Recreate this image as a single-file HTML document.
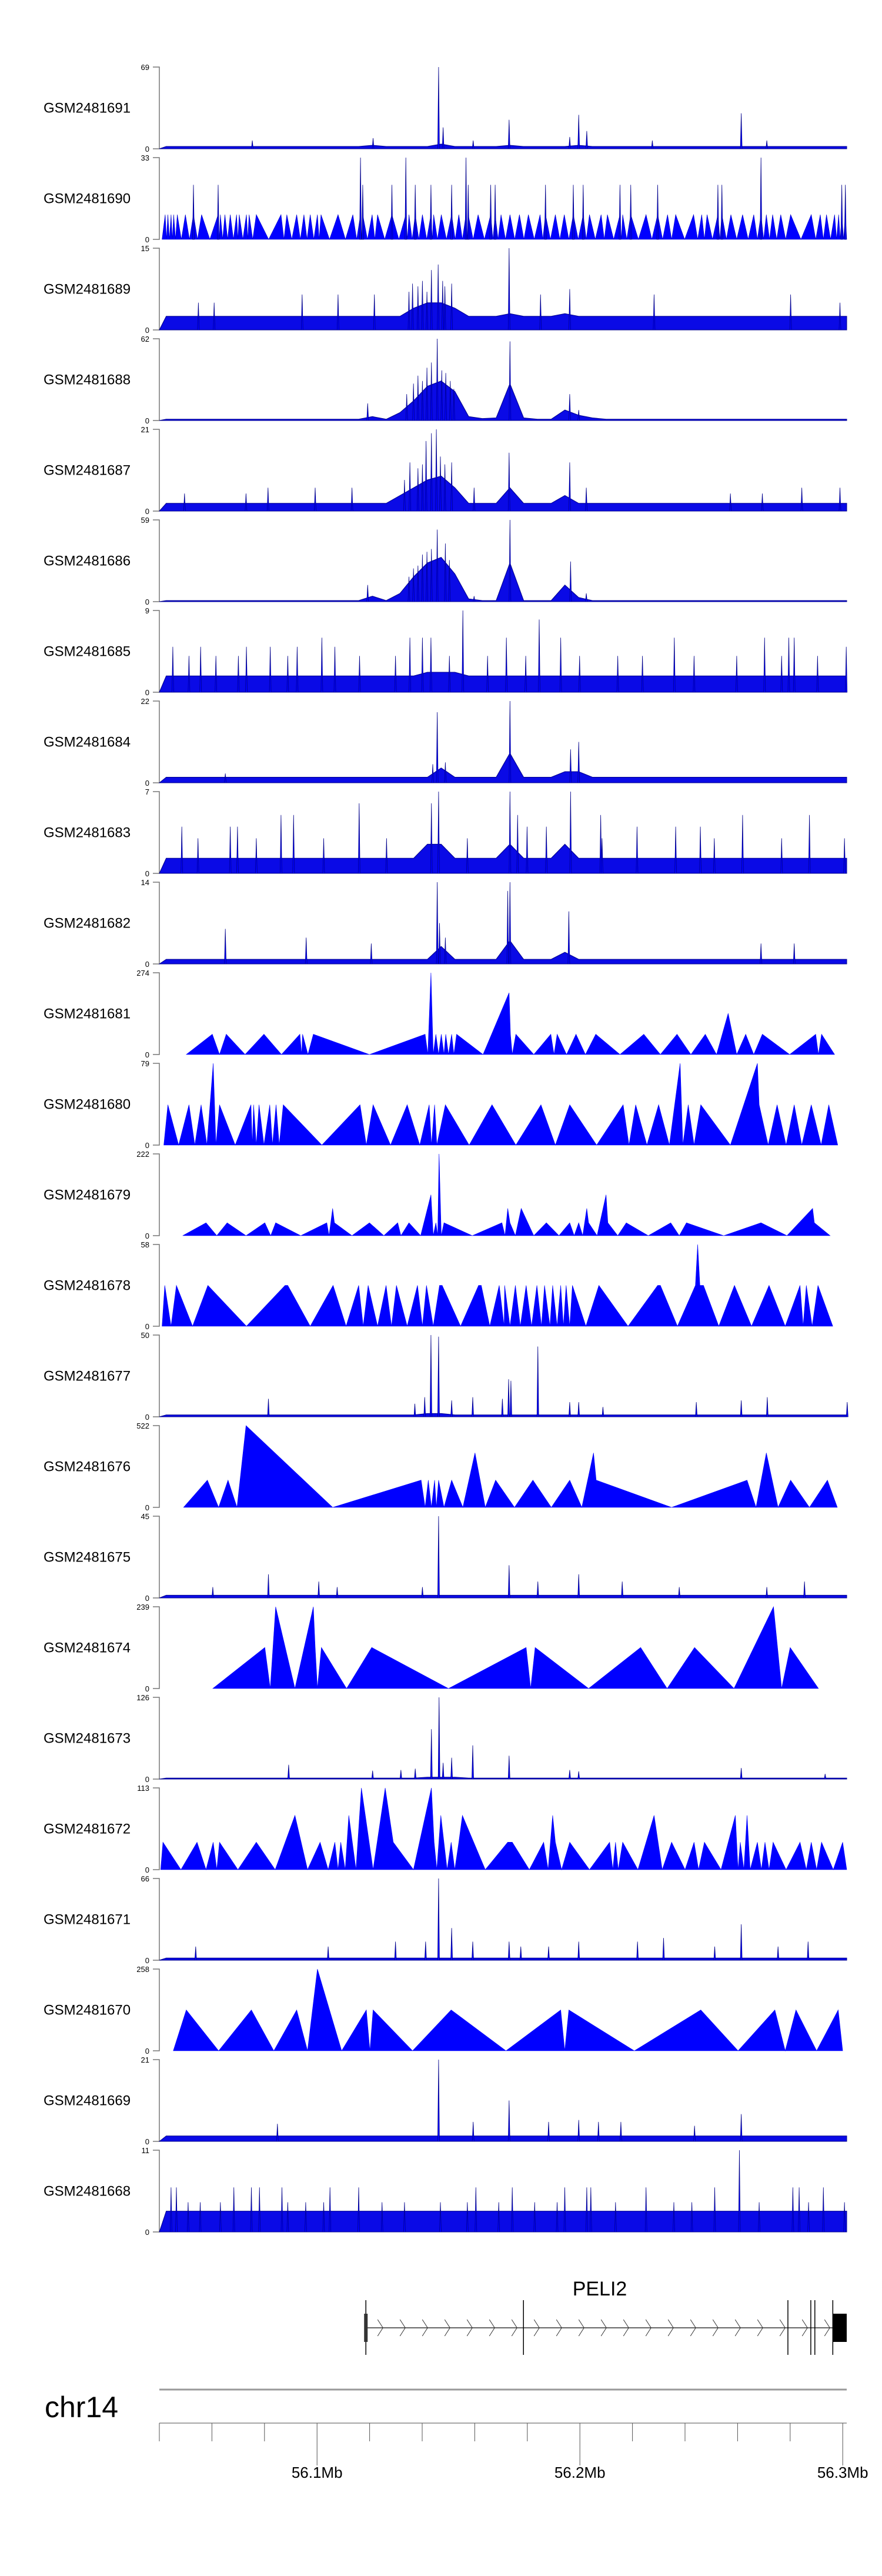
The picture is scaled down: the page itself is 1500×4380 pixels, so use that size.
<!DOCTYPE html>
<html><head><meta charset="utf-8"><title>Genome tracks</title>
<style>
html,body{margin:0;padding:0;background:#fff;}
svg{display:block;font-family:"Liberation Sans",sans-serif;}
</style></head>
<body>
<svg id="chart" width="1500" height="4380" viewBox="0 0 1500 4380" xmlns="http://www.w3.org/2000/svg">
<g id="tracks"></g>
<g id="gene"></g>
<g id="axis"></g>
</svg>
<script>
// ---- data ----
const trackNames = ["GSM2481691","GSM2481690","GSM2481689","GSM2481688","GSM2481687","GSM2481686","GSM2481685","GSM2481684","GSM2481683","GSM2481682","GSM2481681","GSM2481680","GSM2481679","GSM2481678","GSM2481677","GSM2481676","GSM2481675","GSM2481674","GSM2481673","GSM2481672","GSM2481671","GSM2481670","GSM2481669","GSM2481668"];
const trackMax = [69,33,15,62,21,59,9,22,7,14,274,79,222,58,50,522,45,239,126,113,66,258,21,11];
const trackKind = ["n","p","n","n","n","n","n","n","n","n","t","t","t","t","n","t","n","t","n","t","n","t","n","n"];
// genomic bins (x domain 14..1545)
const binLo = 14, binHi = 1545;
const base01 = [2,2,2,2,2,2,2,2,2,2,2,2,2,2,2,3,2,2,2,2,4,2,2,2,2,3,2,2,2,2,3,2,2,2,2,2,2,2,2,2,2,2,2,2,2,2,2,2,2,2];
const spkX01 = [636,646,793,928,948,966,1310,490,221,1367,1112,713];
const spkY01 = [69,18,24.5,10,28.7,15,30,9,7,7,7,7];
const peakX02 = [27,33,40,46,54,72,90,108,145,150,160,172,186,192,208,214,230,285,298,320,336,350,366,374,412,445,462,467,488,500,532,563,570,584,600,619,625,642,665,681,697,702,724,752,762,775,795,816,836,862,874,896,916,936,958,972,998,1012,1040,1046,1064,1098,1124,1146,1164,1204,1222,1234,1258,1267,1287,1313,1338,1354,1366,1380,1398,1420,1466,1486,1500,1518,1527,1534,1542];
const peakY02 = [10,10,10,10,10,10,22,10,22,10,10,10,10,10,10,10,10,10,10,10,10,10,10,10,10,10,33,22,10,10,22,33,10,22,10,22,10,10,22,10,33,22,10,22,22,10,10,10,10,10,22,10,10,22,22,10,10,10,22,10,22,10,22,10,10,10,10,10,22,22,10,10,10,33,10,10,10,10,10,10,10,10,10,22,22];
const base03 = [2.5,2.5,2.5,2.5,2.5,2.5,2.5,2.5,2.5,2.5,2.5,2.5,2.5,2.5,2.5,2.5,2.5,2.5,4,5,5,4,2.5,2.5,2.5,3,2.5,2.5,2.5,3,2.5,2.5,2.5,2.5,2.5,2.5,2.5,2.5,2.5,2.5,2.5,2.5,2.5,2.5,2.5,2.5,2.5,2.5,2.5,2.5];
const spkX03 = [793,635,620,665,578,928,412,332,493,1116,1420,863,101,136,1530,600,650,590,610,645,570];
const spkY03 = [15,12,11,8.5,8.5,7.5,6.5,6.5,6.5,6.5,6.5,6.5,5,5,5,9,8,8,7,9,7];
const base04 = [1,1,1,1,1,1,1,1,1,1,1,1,1,1,1,3,1,6,15,26,30,22,3,1.5,2,28,2,1,1,8,4,2,1,1,1,1,1,1,1,1,1,1,1,1,1,1,1,1,1,1];
const spkX04 = [633,795,478,928,948,610,652,620,600,590,580,643,662,670,565];
const spkY04 = [62,60,13,20,8,40,36,44,30,34,28,38,30,24,20];
const base05 = [2,2,2,2,2,2,2,2,2,2,2,2,2,2,2,2,2,4,6,8,9,6,2,2,2,6,2,2,2,4,2,2,2,2,2,2,2,2,2,2,2,2,2,2,2,2,2,2,2,2];
const spkX05 = [631,620,608,572,665,793,928,256,361,443,715,965,1445,1530,70,207,1286,1357,600,590,650,640,560];
const spkY05 = [21,20,18,12.5,12.5,15,12.5,6,6,6,6,6,6,6,4.5,4.5,4.5,4.5,12,11,12,14,8];
const base06 = [0.8,0.8,0.8,0.8,0.8,0.8,0.8,0.8,0.8,0.8,0.8,0.8,0.8,0.8,0.8,4,0.8,6,18,28,32,20,2,0.8,0.8,28,0.8,0.8,0.8,12,3,0.8,0.8,0.8,0.8,0.8,0.8,0.8,0.8,0.8,0.8,0.8,0.8,0.8,0.8,0.8,0.8,0.8,0.8,0.8];
const spkX06 = [633,651,795,930,478,715,965,610,590,620,600,660,580,570];
const spkY06 = [52,42,59,29,12,4,6,36,26,38,34,30,24,18];
const base07 = [1.8,1.8,1.8,1.8,1.8,1.8,1.8,1.8,1.8,1.8,1.8,1.8,1.8,1.8,1.8,1.8,1.8,1.8,1.8,2.2,2.2,2.2,1.8,1.8,1.8,1.8,1.8,1.8,1.8,1.8,1.8,1.8,1.8,1.8,1.8,1.8,1.8,1.8,1.8,1.8,1.8,1.8,1.8,1.8,1.8,1.8,1.8,1.8,1.8,1.8];
const spkX07 = [690,860,376,572,600,619,787,908,1161,1362,1416,1428,44,106,208,261,321,405,1544,80,140,190,300,460,540,660,745,830,950,1035,1090,1205,1300,1400,1480];
const spkY07 = [9,8,6,6,6,6,6,6,6,6,6,6,5,5,5,5,5,5,5,4,4,4,4,4,4,4,4,4,4,4,4,4,4,4,4];
const base08 = [1.5,1.5,1.5,1.5,1.5,1.5,1.5,1.5,1.5,1.5,1.5,1.5,1.5,1.5,1.5,1.5,1.5,1.5,1.5,1.5,4,1.5,1.5,1.5,1.5,8,1.5,1.5,1.5,3,3,1.5,1.5,1.5,1.5,1.5,1.5,1.5,1.5,1.5,1.5,1.5,1.5,1.5,1.5,1.5,1.5,1.5,1.5,1.5];
const spkX08 = [633,795,930,948,651,623,161];
const spkY08 = [19,22,9,11,5.5,5,2.5];
const base09 = [1.3,1.3,1.3,1.3,1.3,1.3,1.3,1.3,1.3,1.3,1.3,1.3,1.3,1.3,1.3,1.3,1.3,1.3,1.3,2.5,2.5,1.3,1.3,1.3,1.3,2.5,1.3,1.3,1.3,2.5,1.3,1.3,1.3,1.3,1.3,1.3,1.3,1.3,1.3,1.3,1.3,1.3,1.3,1.3,1.3,1.3,1.3,1.3,1.3,1.3];
const spkX09 = [636,795,930,620,459,1313,1462,285,313,172,188,1164,64,1219,1078,833,876,997,812,100,230,380,520,700,1000,1250,1400,1540];
const spkY09 = [7,7,7,6,6,5,5,5,5,4,4,4,4,4,4,4,4,5,5,3,3,3,3,3,3,3,3,3];
const base10 = [0.8,0.8,0.8,0.8,0.8,0.8,0.8,0.8,0.8,0.8,0.8,0.8,0.8,0.8,0.8,0.8,0.8,0.8,0.8,0.8,3,0.8,0.8,0.8,0.8,4,0.8,0.8,0.8,2,0.8,0.8,0.8,0.8,0.8,0.8,0.8,0.8,0.8,0.8,0.8,0.8,0.8,0.8,0.8,0.8,0.8,0.8,0.8,0.8];
const spkX10 = [633,795,790,926,638,161,651,341,486,1354,1428];
const spkY10 = [14,14,12.5,9,7,6,4.5,4.5,3.5,3.5,3.5];
const triX11 = [74,132,148,163,205,247,286,327,331,333,345,357,482,606,612,619,624,630,636,642,648,652,658,665,670,676,735,793,796,800,808,848,886,893,900,921,942,963,986,1040,1093,1130,1167,1198,1230,1255,1281,1300,1320,1338,1357,1418,1476,1482,1489,1518];
const triY11 = [0,68,0,68,0,68,0,68,0,68,0,68,0,68,0,274,0,68,0,68,0,68,0,68,0,68,0,207,68,0,68,0,68,0,68,0,68,0,68,0,68,0,68,0,68,0,138,0,68,0,68,0,68,0,68,0];
const triX12 = [24,33,57,80,93,107,120,134,140,148,183,218,221,224,230,236,247,260,266,274,281,290,376,461,475,490,529,566,594,615,620,627,632,651,704,755,808,864,896,928,988,1047,1060,1075,1100,1126,1150,1174,1180,1192,1205,1220,1286,1346,1350,1370,1390,1410,1428,1445,1466,1488,1505,1525];
const triY12 = [0,39,0,39,0,39,0,79,0,39,0,39,0,39,0,39,0,39,0,39,0,39,0,39,0,39,0,39,0,39,0,39,0,39,0,39,0,39,0,39,0,39,0,39,0,39,0,79,0,39,0,39,0,79,39,0,39,0,39,0,39,0,39,0];
const triX13 = [66,118,142,165,207,249,262,273,329,387,392,400,404,443,482,514,545,552,570,596,619,624,630,634,637,642,648,711,777,784,790,795,807,820,848,876,904,928,938,948,957,966,970,989,1009,1013,1035,1054,1103,1153,1172,1188,1271,1354,1412,1469,1473,1508];
const triY13 = [0,35,0,35,0,35,0,35,0,35,0,74,35,0,35,0,35,0,35,0,111,0,35,0,222,0,35,0,35,0,74,35,0,74,0,35,0,35,0,35,0,74,35,0,111,35,0,35,0,35,0,35,0,35,0,74,35,0];
const triX14 = [20,26,40,52,88,122,208,294,300,350,401,430,458,468,479,500,519,531,542,566,589,600,609,624,638,644,685,725,731,750,771,782,783,795,807,818,831,843,855,865,872,884,890,900,908,914,920,928,934,964,993,1058,1124,1130,1168,1208,1213,1218,1226,1260,1295,1333,1372,1408,1441,1448,1455,1468,1481,1514];
const triY14 = [0,29,0,29,0,29,0,29,29,0,29,0,29,0,29,0,29,0,29,0,29,0,29,0,29,29,0,29,29,0,29,0,29,0,29,0,29,0,29,0,29,0,29,0,29,0,29,0,29,0,29,0,29,29,0,29,58,29,29,0,29,0,29,0,29,0,29,0,29,0];
const base15 = [1.2,1.2,1.2,1.2,1.2,1.2,1.2,1.2,1.2,1.2,1.2,1.2,1.2,1.2,1.2,1.2,1.2,1.2,1.2,2,2,1.2,1.2,1.2,1.2,1.2,1.2,1.2,1.2,1.2,1.2,1.2,1.2,1.2,1.2,1.2,1.2,1.2,1.2,1.2,1.2,1.2,1.2,1.2,1.2,1.2,1.2,1.2,1.2,1.2];
const spkX15 = [619,636,857,792,797,257,605,665,712,778,928,948,1310,1368,1210,1546,583,1002];
const spkY15 = [50,49,43,23,22,11,12,10,12,11,9,9,10,12,9,9,8,6];
const triX16 = [68,121,146,167,187,207,400,597,606,613,620,627,631,636,648,665,690,717,740,763,805,846,887,928,955,981,987,1155,1323,1343,1366,1392,1420,1462,1502,1524];
const triY16 = [0,174,0,174,0,522,0,174,0,174,0,174,0,174,0,174,0,348,0,174,0,174,0,174,0,348,174,0,174,0,348,0,174,0,174,0];
const base17 = [1.5,1.5,1.5,1.5,1.5,1.5,1.5,1.5,1.5,1.5,1.5,1.5,1.5,1.5,1.5,1.5,1.5,1.5,1.5,1.5,1.5,1.5,1.5,1.5,1.5,1.5,1.5,1.5,1.5,1.5,1.5,1.5,1.5,1.5,1.5,1.5,1.5,1.5,1.5,1.5,1.5,1.5,1.5,1.5,1.5,1.5,1.5,1.5,1.5,1.5];
const spkX17 = [636,793,257,948,369,857,1045,1451,410,1367,133,600,1172];
const spkY17 = [45,18,13,13,9,9,9,9,6,6,6,6,6];
const triX18 = [133,249,261,273,316,357,361,366,375,431,487,658,831,841,851,970,1086,1145,1206,1294,1382,1400,1419,1482];
const triY18 = [0,120,0,239,0,239,120,0,120,0,120,0,120,0,120,0,120,0,120,0,239,0,120,0];
const base19 = [1.5,1.5,1.5,1.5,1.5,1.5,1.5,1.5,1.5,1.5,1.5,1.5,1.5,1.5,1.5,1.5,1.5,1.5,1.5,3,3,3,1.5,1.5,1.5,1.5,1.5,1.5,1.5,1.5,1.5,1.5,1.5,1.5,1.5,1.5,1.5,1.5,1.5,1.5,1.5,1.5,1.5,1.5,1.5,1.5,1.5,1.5,1.5,1.5];
const spkX19 = [637,620,712,665,793,302,646,489,552,584,928,1310,1497,948];
const spkY19 = [126,77,52,33,36,22,25,13,14,16,14,17,8,12];
const triX20 = [17,22,62,98,118,134,142,148,189,230,272,316,344,372,390,405,412,418,428,436,452,464,490,517,535,580,620,626,632,641,655,664,672,681,689,740,790,800,838,870,880,890,896,910,928,972,1017,1024,1030,1036,1046,1080,1116,1134,1155,1185,1205,1215,1228,1265,1297,1303,1308,1316,1323,1330,1346,1355,1363,1372,1381,1410,1441,1455,1466,1478,1489,1515,1536,1545];
const triY20 = [0,38,0,38,0,38,0,38,0,38,0,75,0,38,0,38,0,38,0,75,0,113,0,113,38,0,113,38,0,75,0,38,0,38,75,0,38,38,0,38,0,75,38,0,38,0,38,0,38,0,38,0,75,0,38,0,38,0,38,0,75,0,38,0,75,0,38,0,38,0,38,0,38,0,38,0,38,0,38,0];
const base21 = [1.8,1.8,1.8,1.8,1.8,1.8,1.8,1.8,1.8,1.8,1.8,1.8,1.8,1.8,1.8,1.8,1.8,1.8,1.8,1.8,1.8,1.8,1.8,1.8,1.8,1.8,1.8,1.8,1.8,1.8,1.8,1.8,1.8,1.8,1.8,1.8,1.8,1.8,1.8,1.8,1.8,1.8,1.8,1.8,1.8,1.8,1.8,1.8,1.8,1.8];
const spkX21 = [636,665,1310,1137,540,607,712,793,948,1079,1459,95,390,819,881,1251,1392];
const spkY21 = [66,26,29,18,15,15,15,15,15,15,15,11,11,11,11,11,11];
const triX22 = [45,74,146,219,269,320,344,366,420,475,483,490,578,664,786,908,917,926,1072,1220,1303,1385,1408,1432,1478,1526,1536];
const triY22 = [0,129,0,129,0,129,0,258,0,129,0,129,0,129,0,129,0,129,0,129,0,129,0,129,0,129,0];
const base23 = [1.4,1.4,1.4,1.4,1.4,1.4,1.4,1.4,1.4,1.4,1.4,1.4,1.4,1.4,1.4,1.4,1.4,1.4,1.4,1.4,1.4,1.4,1.4,1.4,1.4,1.4,1.4,1.4,1.4,1.4,1.4,1.4,1.4,1.4,1.4,1.4,1.4,1.4,1.4,1.4,1.4,1.4,1.4,1.4,1.4,1.4,1.4,1.4,1.4,1.4];
const spkX23 = [636,793,1310,948,713,881,992,277,1042,1206];
const spkY23 = [21,10.5,7,5.5,5,5,5,4.5,5,4];
const base24 = [2.8,2.8,2.8,2.8,2.8,2.8,2.8,2.8,2.8,2.8,2.8,2.8,2.8,2.8,2.8,2.8,2.8,2.8,2.8,2.8,2.8,2.8,2.8,2.8,2.8,2.8,2.8,2.8,2.8,2.8,2.8,2.8,2.8,2.8,2.8,2.8,2.8,2.8,2.8,2.8,2.8,2.8,2.8,2.8,2.8,2.8,2.8,2.8,2.8,2.8];
const spkX24 = [1306,40,52,180,219,237,287,394,458,719,800,917,966,975,1098,1251,1425,1439,1493,78,105,150,300,340,380,510,560,640,700,770,850,900,1030,1160,1200,1350,1460,1540];
const spkY24 = [11,6,6,6,6,6,6,6,6,6,6,6,6,6,6,6,6,6,6,4,4,4,4,4,4,4,4,4,4,4,4,4,4,4,4,4,4,4];
const axisTicksMb = [56.04,56.06,56.08,56.1,56.12,56.14,56.16,56.18,56.2,56.22,56.24,56.26,56.28,56.3];
const axisLabelsMb = [56.1,56.2,56.3];
const geneExonBins = [474,825,1414,1465,1474,1514];

const noisy = {0:[base01,spkX01,spkY01],2:[base03,spkX03,spkY03],3:[base04,spkX04,spkY04],4:[base05,spkX05,spkY05],5:[base06,spkX06,spkY06],6:[base07,spkX07,spkY07],7:[base08,spkX08,spkY08],8:[base09,spkX09,spkY09],9:[base10,spkX10,spkY10],14:[base15,spkX15,spkY15],16:[base17,spkX17,spkY17],18:[base19,spkX19,spkY19],20:[base21,spkX21,spkY21],22:[base23,spkX23,spkY23],23:[base24,spkX24,spkY24]};
const tri = {10:[triX11,triY11],11:[triX12,triY12],12:[triX13,triY13],13:[triX14,triY14],15:[triX16,triY16],17:[triX18,triY18],19:[triX20,triY20],21:[triX22,triY22]};

// ---- scales ----
const PX0 = 271, PX1 = 1440;
function xBin(b){ return PX0 + (b - binLo) * (PX1 - PX0) / (binHi - binLo); }
function xMb(m){ return 271 + (m - 56.04) * 89.4 / 0.02; }
const TOP0 = 114, STEP = 154, TH = 139;
function yVal(v, i){ const z = TOP0 + STEP*i + TH; return z - Math.min(v, trackMax[i]) / trackMax[i] * TH; }

const NS = "http://www.w3.org/2000/svg";
function mk(tag, attrs, parent){ const e = document.createElementNS(NS, tag); for (const k in attrs) e.setAttribute(k, attrs[k]); parent.appendChild(e); return e; }
const gT = document.getElementById('tracks');

function spike(g, b, v, i, zero){
  const x = xBin(b);
  const sp = mk('path', {d:`M${(x-1.5).toFixed(1)} ${zero}L${x.toFixed(1)} ${yVal(v, i).toFixed(1)}L${(x+1.5).toFixed(1)} ${zero}Z`, fill:'#0000ff', stroke:'#00008b', 'stroke-width':0.8}, g);
  
  
}

for (let i = 0; i < trackNames.length; i++){
  const top = TOP0 + STEP*i, zero = top + TH;
  const g = mk('g', {}, gT);
  
  
  const lab = mk('text', {x:74, y:top + TH/2 + 8, 'font-size':24, fill:'#000'}, g);
  lab.textContent = trackNames[i];
  
  
  const ax = mk('path', {d:`M260 ${top}H271V${zero}H260`, stroke:'#777', 'stroke-width':1.5, fill:'none'}, g);
  
  
  const tMax = mk('text', {x:254, y:top + 5, 'font-size':13, 'text-anchor':'end', fill:'#000'}, g);
  tMax.textContent = trackMax[i];
  
  
  const tZero = mk('text', {x:254, y:zero + 5, 'font-size':13, 'text-anchor':'end', fill:'#000'}, g);
  tZero.textContent = '0';
  
  

  if (trackKind[i] === 'n'){
    const [base, sx, sy] = noisy[i];
    const w = (binHi - binLo) / base.length;
    let d = `M${xBin(binLo)} ${zero}`;
    for (let k = 0; k < base.length; k++) d += `L${xBin(binLo + (k+0.5)*w).toFixed(1)} ${yVal(base[k], i).toFixed(1)}`;
    d += `L${xBin(binHi)} ${yVal(base[base.length-1], i).toFixed(1)}L${xBin(binHi)} ${zero}Z`;
    const area = mk('path', {d, fill:'#0a0ae6', stroke:'#00008b', 'stroke-width':1}, g);
    
    
    for (let k = 0; k < sx.length; k++) spike(g, sx[k], sy[k], i, zero);
  } else if (trackKind[i] === 'p'){
    const lvl = Math.min.apply(null, peakY02);
    let d = `M${xBin(20)} ${zero}`;
    for (let k = 0; k < peakX02.length; k++){
      d += `L${xBin(peakX02[k]).toFixed(1)} ${yVal(Math.min(peakY02[k], lvl), i).toFixed(1)}`;
      const nx = k+1 < peakX02.length ? (peakX02[k] + peakX02[k+1]) / 2 : binHi;
      d += `L${xBin(nx).toFixed(1)} ${zero}`;
    }
    d += 'Z';
    const area = mk('path', {d, fill:'#0000ff', stroke:'#0000cc', 'stroke-width':0.6}, g);
    
    
    for (let k = 0; k < peakX02.length; k++) if (peakY02[k] > lvl) spike(g, peakX02[k], peakY02[k], i, zero);
  } else {
    const [tx, ty] = tri[i];
    let d = `M${xBin(tx[0]).toFixed(1)} ${zero}`;
    for (let k = 0; k < tx.length; k++) d += `L${xBin(tx[k]).toFixed(1)} ${yVal(ty[k], i).toFixed(1)}`;
    d += `L${xBin(tx[tx.length-1]).toFixed(1)} ${zero}Z`;
    const area = mk('path', {d, fill:'#0000ff', stroke:'#0000ff', 'stroke-width':0.6}, g);
    
    
  }
}

// ---- gene track ----
const gG = document.getElementById('gene');
const GY = 3958;
const gx0 = xBin(geneExonBins[0]);
const gl = mk('line', {x1:gx0, x2:PX1, y1:GY, y2:GY, stroke:'#333', 'stroke-width':1.5}, gG);


for (let x = gx0 + 20; x < xBin(geneExonBins[5]) - 8; x += 38){
  const ch = mk('path', {d:`M${x} ${GY-14}L${x+9} ${GY}L${x} ${GY+14}`, stroke:'#333', 'stroke-width':1, fill:'none'}, gG);
  
  
}
for (let k = 0; k < geneExonBins.length; k++){
  const x = xBin(geneExonBins[k]);
  const ex = mk('line', {x1:x, x2:x, y1:3911, y2:4004, stroke:'#000', 'stroke-width':1.5}, gG);
  
  
}
const ex0 = mk('rect', {x:gx0 - 3, y:3934, width:6, height:48, fill:'#333'}, gG);


const exL = mk('rect', {x:xBin(geneExonBins[5]), y:3934, width:PX1 - xBin(geneExonBins[5]), height:48, fill:'#000'}, gG);


const gname = mk('text', {x:1020, y:3903, 'font-size':34, 'text-anchor':'middle', fill:'#000'}, gG);
gname.textContent = 'PELI2';



// ---- genome axis ----
const gA = document.getElementById('axis');
const chrLine = mk('line', {x1:PX0, x2:PX1, y1:4063, y2:4063, stroke:'#999', 'stroke-width':3}, gA);


const chr = mk('text', {x:76, y:4110, 'font-size':50, fill:'#000'}, gA);
chr.textContent = 'chr14';


const axl = mk('line', {x1:PX0, x2:PX1, y1:4120, y2:4120, stroke:'#888', 'stroke-width':1.5}, gA);


for (let k = 0; k < axisTicksMb.length; k++){
  const x = xMb(axisTicksMb[k]);
  const major = axisLabelsMb.some(m => Math.abs(m - axisTicksMb[k]) < 1e-6);
  const t = mk('line', {x1:x, x2:x, y1:4120, y2: major ? 4192 : 4151, stroke:'#555', 'stroke-width':1}, gA);
  
  
}
for (let k = 0; k < axisLabelsMb.length; k++){
  const tl = mk('text', {x:xMb(axisLabelsMb[k]), y:4213, 'font-size':26, 'text-anchor':'middle', fill:'#000'}, gA);
  tl.textContent = axisLabelsMb[k].toFixed(1) + 'Mb';
  
  
}
</script>
</body></html>
